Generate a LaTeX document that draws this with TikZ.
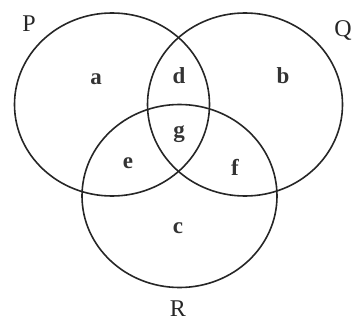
\documentclass[tikz,border=0pt]{standalone}
\usepackage{fontspec}
\setmainfont{Liberation Serif}
\begin{document}
\begin{tikzpicture}[x=1pt,y=-1pt,
  setline/.style={draw=black!85, line width=1.6pt},
  lbl/.style={font=\fontsize{24}{24}\selectfont, text=black!85, inner sep=0pt},
  reg/.style={font=\fontsize{23}{23}\selectfont\bfseries, text=black!80, inner sep=0pt}]
\useasboundingbox (0,0) rectangle (355,326);
\coordinate (cP) at (112,104.5);
\coordinate (cQ) at (245,104.5);
\coordinate (cR) at (179.5,196);
\draw[setline] (cP) ellipse [x radius=97.5, y radius=91.5];
\draw[setline] (cQ) ellipse [x radius=97.5, y radius=91.5];
\draw[setline] (cR) ellipse [x radius=97.5, y radius=91.5];
\node[lbl] (P) at (29,24) {P};
\node[lbl] (Q) at (343,31) {Q};
\node[lbl] (R) at (178,309) {R};
\node[reg] (a) at (96,79) {a};
\node[reg] (d) at (179,76) {d};
\node[reg] (b) at (283,76) {b};
\node[reg] (g) at (179,134) {g};
\node[reg] (e) at (128,163) {e};
\node[reg] (f) at (235,167) {f};
\node[reg] (c) at (178,228) {c};
\end{tikzpicture}
\end{document}
